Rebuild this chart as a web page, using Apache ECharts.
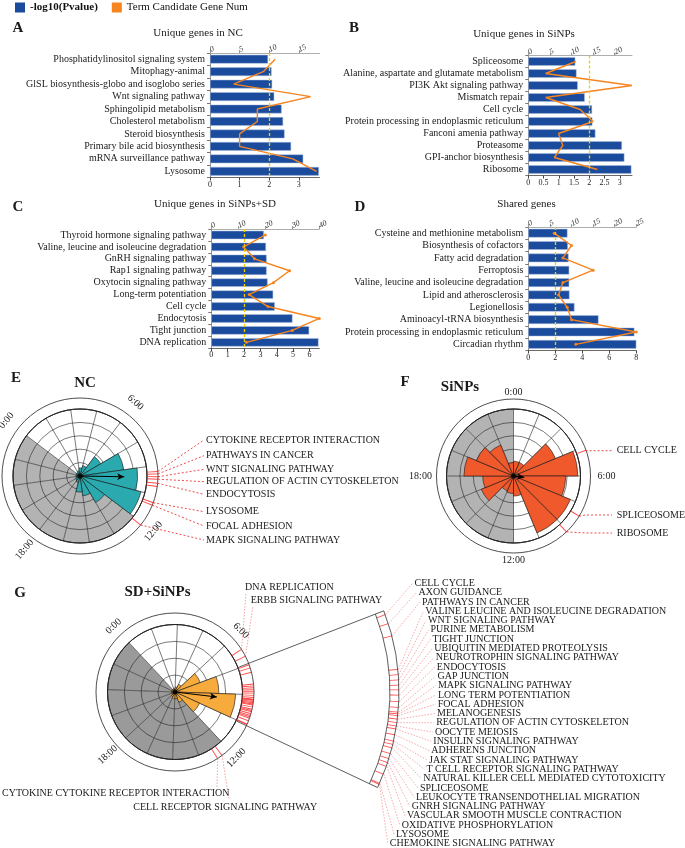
<!DOCTYPE html>
<html><head><meta charset="utf-8">
<script src="https://cdn.jsdelivr.net/npm/echarts@6.0.0/dist/echarts.min.js"></script>
<style>html,body{margin:0;padding:0;background:#fff}#c{width:685px;height:848px}</style>
</head><body><div id="c"></div>
<script>
// ---------------- DATA ----------------
const catA = ['Phosphatidylinositol signaling system','Mitophagy-animal','GlSL biosynthesis-globo and isoglobo series','Wnt signaling pathway','Sphingolipid metabolism','Cholesterol metabolism','Steroid biosynthesis','Primary bile acid biosynthesis','mRNA surveillance pathway','Lysosome'];
const pA = [1.96, 2.08, 2.1, 2.17, 2.42, 2.47, 2.52, 2.74, 3.15, 3.68];
const nA = [11, 9, 4, 17, 8, 8, 5, 5, 14, 18];

const catB = ['Spliceosome','Alanine, aspartate and glutamate metabolism','PI3K Akt signaling pathway','Mismatch repair','Cell cycle','Protein processing in endoplasmic reticulum','Fanconi amenia pathway','Proteasome','GPI-anchor biosynthesis','Ribosome'];
const pB = [1.54, 1.58, 1.62, 1.85, 2.09, 2.1, 2.2, 3.07, 3.15, 3.38];
const nB = [11, 4, 24, 4, 12, 15, 7, 8, 6, 16];

const catC = ['Thyroid hormone signaling pathway','Valine, leucine and isoleucine degradation','GnRH signaling pathway','Rap1 signaling pathway','Oxytocin signaling pathway','Long-term potentiation','Cell cycle','Endocytosis','Tight junction','DNA replication'];
const pC = [3.21, 3.34, 3.38, 3.38, 3.44, 3.78, 3.88, 4.96, 5.98, 6.55];
const nC = [20, 12, 16, 29, 23, 14, 21, 40, 30, 13];

const catD = ['Cysteine and methionine metabolism','Biosynthesis of cofactors','Fatty acid degradation','Ferroptosis','Valine, leucine and isoleucine degradation','Lipid and atherosclerosis','Legionellosis','Aminoacyl-tRNA biosynthesis','Protein processing in endoplasmic reticulum','Circadian rhythm'];
const pD = [2.9, 2.93, 2.98, 3.03, 3.03, 3.05, 3.42, 5.2, 7.86, 8.0];
const nD = [6, 10, 8, 15, 8, 7, 9, 10, 25, 11];

const pThreshold = 2;

const binLabels = ['0:00','1:30','3:00','4:30','6:00','7:30','9:00','10:30','12:00','13:30','15:00','16:30','18:00','19:30','21:00','22:30'];
const eBins = [0.3, 0.4, 0.6, 0.8, 1.8, 3.3, 4.3, 4.7, 2.3, 1.5, 1.2, 0.5, 0.4, 0.3, 0.3, 0.3];
const fBins = [1.1, 1.1, 3.4, 4.8, 3.9, 4.6, 4.6, 1.5, 1.3, 1.2, 2.6, 2.3, 3.7, 3.0, 2.5, 1.0];
const gBins = [0.2, 0.2, 0.3, 0.5, 1.6, 2.6, 3.6, 1.6, 0.65, 0.4, 0.4, 0.3, 0.2, 0.2, 0.2, 0.2];

const arrowTime = [9.6, 6.47, 9.32];
const arrowLen = [3.3, 0.8, 2.5];

const clockLabels = ['0:00','6:00','12:00','18:00'];
const clockHours = [0, 6, 12, 18];

const eTerms = ['CYTOKINE RECEPTOR INTERACTION','PATHWAYS IN CANCER','WNT SIGNALING PATHWAY','REGULATION OF ACTIN CYTOSKELETON','ENDOCYTOSIS','LYSOSOME','FOCAL ADHESION','MAPK SIGNALING PATHWAY'];
const eTimes = [9.31, 9.43, 9.57, 9.69, 9.89, 10.87, 11.0, 12.13];
const eExtraTicks = [10.05];

const fTerms = ['CELL CYCLE','SPLICEOSOME','RIBOSOME'];
const fTimes = [4.7, 8.1, 9.1];

const gSmallTerms = ['DNA REPLICATION','ERBB SIGNALING PATHWAY','CYTOKINE CYTOKINE RECEPTOR INTERACTION','CELL RECEPTOR SIGNALING PATHWAY'];
const gSmallTimes = [6.69, 7.07, 12.69, 12.43];

const gTerms = ['CELL CYCLE','AXON GUIDANCE','PATHWAYS IN CANCER','VALINE LEUCINE AND ISOLEUCINE DEGRADATION','WNT SIGNALING PATHWAY','PURINE METABOLISM','TIGHT JUNCTION','UBIQUITIN MEDIATED PROTEOLYSIS','NEUROTROPHIN SIGNALING PATHWAY','ENDOCYTOSIS','GAP JUNCTION','MAPK SIGNALING PATHWAY','LONG TERM POTENTIATION','FOCAL ADHESION','MELANOGENESIS','REGULATION OF ACTIN CYTOSKELETON','OOCYTE MEIOSIS','INSULIN SIGNALING PATHWAY','ADHERENS JUNCTION','JAK STAT SIGNALING PATHWAY','T CELL RECEPTOR SIGNALING PATHWAY','NATURAL KILLER CELL MEDIATED CYTOTOXICITY','SPLICEOSOME','LEUKOCYTE TRANSENDOTHELIAL MIGRATION','GNRH SIGNALING PATHWAY','VASCULAR SMOOTH MUSCLE CONTRACTION','OXIDATIVE PHOSPHORYLATION','LYSOSOME','CHEMOKINE SIGNALING PATHWAY'];
const gTimes = [7.52, 7.68, 7.9, 8.48, 8.57, 8.66, 8.75, 8.83, 8.92, 9.03, 9.13, 9.21, 9.24, 9.27, 9.33, 9.39, 9.45, 9.5, 9.6, 9.71, 9.77, 9.83, 9.93, 10.02, 10.09, 10.16, 10.3, 10.47, 10.49];
const gZoomRange = [7.45, 10.55];

// ---------------- STYLE / LAYOUT ----------------
const FONT = '"Liberation Serif", "Times New Roman", serif';
const BLUE = '#1a4b9c', ORANGE = '#f6841f', YEL = '#f2d000';

const barPanels = [
  {cats:catA, p:pA, n:nA, left:210, top:53, width:109.5, height:124.5, pMax:3.7, pInt:1, nMax:18.5, nInt:5, maxP:false, maxN:false, sym:false},
  {cats:catB, p:pB, n:nB, left:528.3, top:55.5, width:103.7, height:120, pMax:3.4, pInt:0.5, nMax:24, nInt:5, maxP:false, maxN:false, sym:false},
  {cats:catC, p:pC, n:nC, left:211.3, top:229, width:108, height:119.3, pMax:6.6, pInt:1, nMax:40, nInt:10, maxP:false, maxN:true, sym:true},
  {cats:catD, p:pD, n:nD, left:528.3, top:227, width:108, height:123.5, pMax:8, pInt:2, nMax:25, nInt:5, maxP:true, maxN:true, sym:true}
];

const polarPanels = [
  {cx:80, cy:476, gridR:67, ringR:78, rings:5, base:-53, color:'#2aa9ae', grey:'#b3b3b3', bins:eBins, ticks:eTimes.concat(eExtraTicks),
   clockR:[92,92,92,92], clockRot:[50,-42,50,50]},
  {cx:513.5, cy:476, gridR:67, ringR:77, rings:5, base:0, color:'#f0592b', grey:'#b3b3b3', bins:fBins, ticks:fTimes,
   clockR:[84,93,84,93], clockRot:[0,0,0,0]},
  {cx:175, cy:692, gridR:67.5, ringR:79, rings:4, base:-43, color:'#f7ab3d', grey:'#9a9a9a', bins:gBins, ticks:gSmallTimes.concat(gTimes),
   clockR:[90,90,90,92], clockRot:[43,-45,45,43]}
];
const order = [1,2,3,4,5,6,7,8,9,10,11,12,13,14,15,0];

// ---------------- OPTION ----------------
const grid=[], xAxis=[], yAxis=[], series=[];
barPanels.forEach((P,i)=>{
  grid.push({left:P.left, top:P.top, width:P.width, height:P.height});
  xAxis.push({type:'value', gridIndex:i, position:'bottom', min:0, max:P.pMax, interval:P.pInt,
    axisLine:{show:true, lineStyle:{color:'#444', width:0.8}}, axisTick:{show:true, length:3, lineStyle:{color:'#444'}},
    axisLabel:{fontFamily:FONT, fontSize:8, color:'#222', margin:3, showMaxLabel:P.maxP}, splitLine:{show:false}});
  xAxis.push({type:'value', gridIndex:i, position:'top', min:0, max:P.nMax, interval:P.nInt,
    axisLine:{show:true, lineStyle:{color:'#999', width:0.8}}, axisTick:{show:true, length:3, lineStyle:{color:'#999'}},
    axisLabel:{fontFamily:FONT, fontSize:8, color:'#333', fontStyle:'italic', rotate:-25, margin:3, showMaxLabel:P.maxN}, splitLine:{show:false}});
  yAxis.push({type:'category', gridIndex:i, data:P.cats, inverse:true,
    axisLine:{show:true, lineStyle:{color:'#777', width:0.8}}, axisTick:{show:true, length:3, lineStyle:{color:'#777'}},
    axisLabel:{interval:0, fontFamily:FONT, fontSize:10, color:'#1a1a1a', margin:5}});
  series.push({type:'bar', name:'-log10(Pvalue)', xAxisIndex:2*i, yAxisIndex:i, data:P.p, barCategoryGap:'30%',
    itemStyle:{color:BLUE, borderColor:'#a9bde0', borderWidth:0.5}, z:2, silent:true,
    markLine:{symbol:'none', silent:true, label:{show:false}, lineStyle:{color:YEL, type:[3,2], width:1.3}, data:[{xAxis:pThreshold}]}});
  series.push({type:'line', name:'Term Candidate Gene Num', xAxisIndex:2*i+1, yAxisIndex:i, data:P.n,
    symbol:P.sym?'circle':'none', symbolSize:3, lineStyle:{color:ORANGE, width:1.4}, itemStyle:{color:ORANGE}, z:4, silent:true});
});

const polar=[], angleAxis=[], radiusAxis=[];
const idx = [];
polarPanels.forEach((Q,q)=>{
  const I = {};
  I.g = polar.length; polar.push({center:[Q.cx,Q.cy], radius:Q.gridR});
  angleAxis.push({polarIndex:I.g, type:'category', data:order.map(b=>binLabels[b]), startAngle:90-Q.base-22.5, clockwise:true, z:0,
    axisLine:{show:true, lineStyle:{color:'#222', width:0.8}}, axisTick:{show:false}, axisLabel:{show:false},
    splitLine:{show:false},
    splitArea:{show:true, areaStyle:{color:order.map(b=> b>=8 ? Q.grey : '#ffffff')}}});
  radiusAxis.push({polarIndex:I.g, type:'value', min:0, max:Q.rings, interval:1, z:1,
    axisLine:{show:false}, axisTick:{show:false}, axisLabel:{show:false}, splitLine:{show:true, lineStyle:{color:'#222', width:0.6}}});
  series.push({type:'bar', coordinateSystem:'polar', polarIndex:I.g, data:order.map(b=>Q.bins[b]), barCategoryGap:'0%',
    itemStyle:{color:Q.color, borderColor:'#1a1a1a', borderWidth:0.6}, z:2, silent:true});
  I.r = polar.length; polar.push({center:[Q.cx,Q.cy], radius:[Q.gridR, Q.ringR]});
  angleAxis.push({polarIndex:I.r, type:'value', min:0, max:24, startAngle:90-Q.base, clockwise:true, z:1,
    axisLine:{show:true, lineStyle:{color:'#222', width:0.8}}, axisTick:{show:false}, axisLabel:{show:false}, splitLine:{show:false}});
  radiusAxis.push({polarIndex:I.r, type:'value', min:0, max:1, show:false});
  series.push({type:'scatter', coordinateSystem:'polar', polarIndex:I.r, symbol:'rect', symbolSize:[0.9, Q.ringR-Q.gridR],
    data:Q.ticks.map(t=>({value:[0.5, t], symbolRotate:-(Q.base + t*15)})), itemStyle:{color:'#ff1a1a'}, z:3, silent:true});
  I.v = polar.length; polar.push({center:[Q.cx,Q.cy], radius:Q.gridR});
  angleAxis.push({polarIndex:I.v, type:'value', min:0, max:24, interval:1.5, startAngle:90-Q.base, clockwise:true, z:1,
    axisLine:{show:false}, axisTick:{show:false}, axisLabel:{show:false}, splitArea:{show:false},
    splitLine:{show:true, lineStyle:{color:'#222', width:0.6}}});
  radiusAxis.push({polarIndex:I.v, type:'value', min:0, max:Q.rings, show:false});
  const th = Q.base + arrowTime[q]*15;
  series.push({type:'line', coordinateSystem:'polar', polarIndex:I.v, silent:true, z:5,
    data:[{value:[0, arrowTime[q]], symbol:'none'}, {value:[arrowLen[q], arrowTime[q]], symbol:'arrow', symbolSize:[5,7], symbolRotate:-th}],
    lineStyle:{color:'#000', width:1.2}, itemStyle:{color:'#000'}});
  series.push({type:'scatter', coordinateSystem:'polar', polarIndex:I.v, data:[[0,0]], symbolSize:5, itemStyle:{color:'#000'}, z:6, silent:true});
  if (q === 2) {
    I.b = polar.length; polar.push({center:[Q.cx,Q.cy], radius:[215, 224]});
    angleAxis.push({polarIndex:I.b, type:'value', min:0, max:24, startAngle:90-Q.base, clockwise:true, show:false});
    radiusAxis.push({polarIndex:I.b, type:'value', min:0, max:1, show:false});
    series.push({type:'scatter', coordinateSystem:'polar', polarIndex:I.b, symbol:'rect', symbolSize:[0.8, 9],
      data:gTimes.map(t=>({value:[0.5, t], symbolRotate:-(Q.base + t*15)})), itemStyle:{color:'#ff1a1a'}, z:3, silent:true});
  }
  idx.push(I);
});

const option = {
  animation:false,
  backgroundColor:'#fff',
  legend:{left:15, top:2, padding:0, itemWidth:10, itemHeight:10, itemGap:14,
    itemStyle:{borderWidth:0},
    data:[{name:'-log10(Pvalue)', icon:'rect'}, {name:'Term Candidate Gene Num', icon:'rect'}],
    formatter:name=> name==='-log10(Pvalue)' ? '{b|'+name+'}' : name,
    textStyle:{fontFamily:FONT, fontSize:11, color:'#111', rich:{b:{fontFamily:FONT, fontSize:11, fontWeight:'bold', color:'#111'}}}},
  grid, xAxis, yAxis, polar, angleAxis, radiusAxis, series
};

const chart = echarts.init(document.getElementById('c'));
chart.setOption(option);

// ---------------- ANNOTATIONS ----------------
function geo(q, h, rPx){
  const Q = polarPanels[q];
  return chart.convertToPixel({polarIndex: idx[q].v}, [rPx / Q.gridR * Q.rings, h]);
}
function txt(x, y, s, o){
  o = o || {};
  return {type:'text', x:x, y:y, rotation:(o.rot||0)*Math.PI/180, silent:true, z:20,
    style:{text:s, fontFamily:FONT, fontSize:o.size||10, fontWeight:o.bold?'bold':'normal', fill:o.color||'#1a1a1a',
      align:o.align||'left', verticalAlign:o.va||'middle'}};
}
function line(pts, o){
  o = o || {};
  return {type:'polyline', silent:true, z:o.z||15, shape:{points:pts},
    style:{fill:'none', stroke:o.color||'#e82020', lineWidth:o.w||0.8, lineDash:o.dash===undefined?[2,2]:o.dash}};
}
const gr = [];
[['A',18,28],['B',354,28],['C',18,207],['D',360,207],['E',16,378],['F',405,382],['G',20,593]].forEach(a=>gr.push(txt(a[1],a[2],a[0],{size:15,bold:true,align:'center'})));
[['Unique genes in NC',198,33],['Unique genes in SiNPs',524,34],['Unique genes in SiNPs+SD',215,204.5],['Shared genes',526.5,204.5]].forEach(a=>gr.push(txt(a[1],a[2],a[0],{size:11,align:'center'})));
[['NC',85,383],['SiNPs',460,387.5],['SD+SiNPs',157.5,592.5]].forEach(a=>gr.push(txt(a[1],a[2],a[0],{size:15,bold:true,align:'center'})));

polarPanels.forEach((Q,q)=>{
  clockLabels.forEach((s,k)=>{
    const p = geo(q, clockHours[k], Q.clockR[k]);
    gr.push(txt(p[0], p[1], s, {size:10, align:'center', rot:Q.clockRot[k]}));
  });
});

const eLabelY = [440, 455.7, 469.3, 481.7, 494.3, 511.7, 526, 540];
eTerms.forEach((s,k)=>{
  const a = geo(0, eTimes[k], polarPanels[0].ringR);
  gr.push(line([a, [204, eLabelY[k]]], {w:0.8}));
  gr.push(txt(206, eLabelY[k], s));
});
const fLabelY = [450.7, 515, 533];
fTerms.forEach((s,k)=>{
  const a = geo(1, fTimes[k], polarPanels[1].ringR);
  gr.push(line([a, [586, fLabelY[k]], [612, fLabelY[k]]], {w:0.8}));
  gr.push(txt(616.7, fLabelY[k], s));
});
const gSmallPos = [[245,587.3],[250.7,600],[2,793.3],[133.3,807.3]];
const gSmallEnd = [[246,593],[253,606],[217,787],[229,799]];
gSmallTerms.forEach((s,k)=>{
  const a = geo(2, gSmallTimes[k], polarPanels[2].ringR);
  gr.push(line([a, gSmallEnd[k]], {w:0.6, color:'#f06060', dash:[1.5,1.5]}));
  gr.push(txt(gSmallPos[k][0], gSmallPos[k][1], s));
});
(function(){
  const c = geo(2, 0, 0);
  const a1p = geo(2, gZoomRange[0], 100), a2p = geo(2, gZoomRange[1], 100);
  const a1 = Math.atan2(a1p[1]-c[1], a1p[0]-c[0]), a2 = Math.atan2(a2p[1]-c[1], a2p[0]-c[0]);
  gr.push({type:'sector', silent:true, z:12, shape:{cx:c[0], cy:c[1], r0:215, r:224, startAngle:a1, endAngle:a2, clockwise:true},
    style:{fill:'none', stroke:'#333', lineWidth:0.8}});
  gZoomRange.forEach(h=>{
    gr.push(line([geo(2, h, 68), geo(2, h, 215)], {color:'#333', w:0.8, dash:null}));
  });
  const R = 263, y0 = 583.3, y1 = 843.7;
  gTerms.forEach((s,k)=>{
    const y = y0 + (y1-y0)*k/(gTerms.length-1);
    const x = c[0] + Math.sqrt(R*R - (y-c[1])*(y-c[1]));
    const a = geo(2, gTimes[k], 224.5);
    gr.push(line([a, [x-2, y]], {w:0.6, color:'#f07070', dash:[1.5,1.5]}));
    gr.push(txt(x, y, s));
  });
})();

chart.setOption({graphic: gr});
</script></body></html>
